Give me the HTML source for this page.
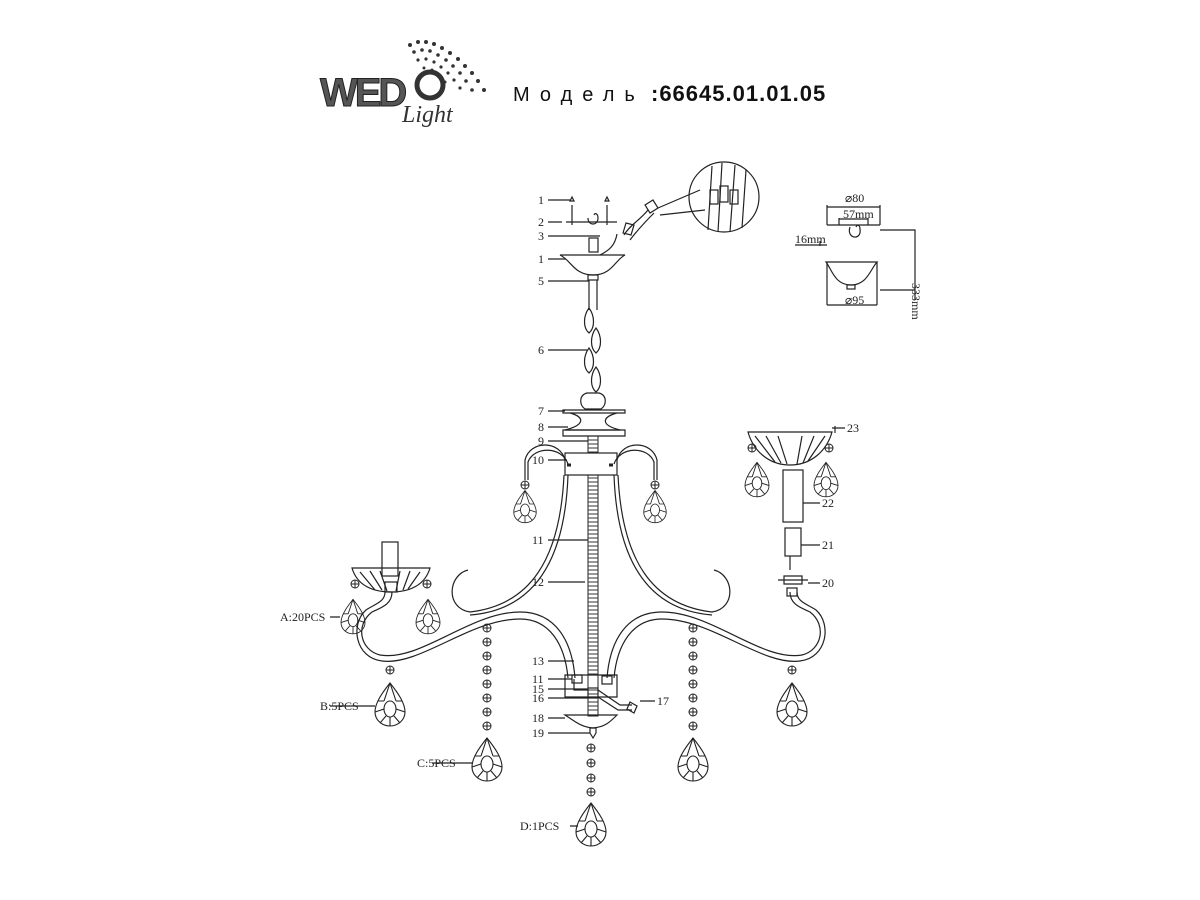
<!DOCTYPE html>
<html><head><meta charset="utf-8"><style>
html,body{margin:0;padding:0;background:#fff;}
svg{display:block;}
text{font-family:"Liberation Serif",serif;font-size:12px;fill:#222;}
.t{font-family:"Liberation Sans","Noto Sans CJK SC",sans-serif;}
</style></head><body>
<svg width="1200" height="900" viewBox="0 0 1200 900" xmlns="http://www.w3.org/2000/svg">
<defs>
<g id="drop" fill="none" stroke="#222" stroke-width="1.1">
<path d="M0,-22 C8,-12 15,-2 15,7 A15,14 0 0 1 -15,7 C-15,-2 -8,-12 0,-22 Z"/>
<ellipse cx="0" cy="4" rx="6" ry="8"/>
<path d="M0,-22 L-6,-4 M0,-22 L6,-4 M-15,7 L-6,4 M15,7 L6,4 M-10,18 L-4,11 M10,18 L4,11 M0,21 L0,12 M-12,-4 L-6,-4 M12,-4 L6,-4"/>
</g>
<g id="bead" fill="none" stroke="#222" stroke-width="1">
<circle r="4"/><path d="M-4,0H4M0,-4V4"/>
</g>
</defs>

<!-- logo -->
<g fill="#333">
<circle cx="410" cy="45" r="2"/><circle cx="418" cy="42" r="2"/><circle cx="426" cy="42" r="2"/><circle cx="434" cy="44" r="2"/><circle cx="442" cy="48" r="2"/><circle cx="450" cy="53" r="2"/><circle cx="458" cy="59" r="2"/><circle cx="465" cy="66" r="2"/><circle cx="472" cy="73" r="2"/><circle cx="478" cy="81" r="2"/><circle cx="484" cy="90" r="2"/>
<circle cx="414" cy="52" r="1.8"/><circle cx="422" cy="50" r="1.8"/><circle cx="430" cy="51" r="1.8"/><circle cx="438" cy="55" r="1.8"/><circle cx="446" cy="60" r="1.8"/><circle cx="453" cy="66" r="1.8"/><circle cx="460" cy="73" r="1.8"/><circle cx="466" cy="81" r="1.8"/><circle cx="472" cy="90" r="1.8"/>
<circle cx="418" cy="60" r="1.6"/><circle cx="426" cy="59" r="1.6"/><circle cx="434" cy="62" r="1.6"/><circle cx="441" cy="67" r="1.6"/><circle cx="448" cy="73" r="1.6"/><circle cx="454" cy="80" r="1.6"/><circle cx="460" cy="88" r="1.6"/>
<circle cx="424" cy="68" r="1.5"/><circle cx="432" cy="70" r="1.5"/><circle cx="439" cy="75" r="1.5"/><circle cx="445" cy="82" r="1.5"/>
</g>
<text x="320" y="106" style="font-family:'Liberation Sans',sans-serif;font-size:40px;font-weight:bold;fill:#555;letter-spacing:-3px;stroke:#222;stroke-width:1">WED</text>
<circle cx="430" cy="85" r="13" fill="none" stroke="#333" stroke-width="5"/>
<text x="402" y="122" style="font-family:'Liberation Serif',serif;font-style:italic;font-size:24px;fill:#333">Light</text>
<text x="513" y="101" class="t" style="font-size:20px;fill:#111;letter-spacing:10px">Модель</text>
<text x="651" y="101" class="t" style="font-size:22px;font-weight:bold;fill:#111;letter-spacing:1px">:66645.01.01.05</text>

<g fill="none" stroke="#222" stroke-width="1.2">
<path d="M566,222 H617"/>
<path d="M572,205 V225 M607,205 V225"/>
<path d="M570,201 l2,-4 l2,4z M605,201 l2,-4 l2,4z"/>
<path d="M588,218 c0,8 10,8 10,0 c0,-4 -3,-6 -4,-3"/>
<path d="M624,235 C630,225 640,220 648,210 M630,240 C636,232 645,222 654,213"/>
<path d="M623,233 l3,-10 l8,2 l-3,10z"/>
<path d="M645,205 l8,-5 l5,8 l-8,5z"/>
<path d="M658,208 L700,190 M660,215 L705,210"/>
<circle cx="724" cy="197" r="35"/>
<path d="M712,166 L708,230 M722,163 L718,232 M735,165 L730,232 M746,170 L742,228"/>
<rect x="710" y="190" width="8" height="14"/><rect x="720" y="186" width="8" height="16"/><rect x="730" y="190" width="8" height="14"/>
<path d="M617,234 C615,245 610,250 600,255"/>
<rect x="589" y="238" width="9" height="14"/>
<path d="M560,255 H625 C615,260 612,275 593,275 C574,275 571,260 560,255 Z"/>
<rect x="588" y="275" width="10" height="5"/>
<path d="M589,280 V310 M597,280 V310"/>
<path d="M589,308 c-6,8 -6,20 0,25 c6,-5 6,-17 0,-25z M596,328 c-6,8 -6,20 0,25 c6,-5 6,-17 0,-25z M589,348 c-6,8 -6,20 0,25 c6,-5 6,-17 0,-25z M596,367 c-6,8 -6,20 0,25 c6,-5 6,-17 0,-25z"/>
<path d="M587,393 c-8,2 -8,12 -2,16 h16 c6,-4 6,-14 -2,-16 z"/>
<path d="M563,410 H625 V413 H563 Z M570,413 C585,417 585,425 565,430 H620 C600,425 602,417 617,413"/>
<path d="M563,430 H625 V436 H563 Z"/>
<rect x="588" y="436" width="10" height="280" stroke-width="1"/>
</g>
<g stroke="#333" stroke-width="1">
<path d="M588,440H598M588,444H598M588,448H598M588,452H598M588,478H598M588,482H598M588,486H598M588,490H598M588,494H598M588,498H598M588,502H598M588,506H598M588,510H598M588,514H598M588,518H598M588,522H598M588,526H598M588,530H598M588,534H598M588,538H598M588,542H598M588,546H598M588,550H598M588,554H598M588,558H598M588,562H598M588,566H598M588,570H598M588,574H598M588,578H598M588,582H598M588,586H598M588,590H598M588,594H598M588,598H598M588,602H598M588,606H598M588,610H598M588,614H598M588,618H598M588,622H598M588,626H598M588,630H598M588,634H598M588,638H598M588,642H598M588,646H598M588,650H598M588,654H598M588,658H598M588,662H598M588,666H598M588,670H598M588,674H598M588,690H598M588,694H598M588,698H598M588,702H598M588,706H598M588,710H598"/>
</g>
<g fill="none" stroke="#222" stroke-width="1.2">
<rect x="565" y="453" width="52" height="22" fill="#fff"/>
<path d="M567,465h4M613,465h-4" stroke-width="3"/>
<path d="M565,460 C560,440 530,440 525,460 V480 M568,464 C562,446 534,446 528,462 V480"/>
<path d="M617,460 C622,440 652,440 657,460 V480 M614,464 C620,446 648,446 654,462 V480"/>
<path d="M564,475 C560,560 530,605 470,612 C445,608 448,575 468,570"/>
<path d="M568,475 C565,560 535,610 470,615"/>
<path d="M618,475 C622,560 652,605 712,612 C737,608 734,575 714,570"/>
<path d="M614,475 C617,560 647,610 712,615"/>
<path d="M392,592 C392,605 380,608 372,612 C355,625 360,650 380,655 C420,662 470,612 520,612 C555,612 572,640 575,678"/>
<path d="M385,592 C385,602 375,604 366,610 C350,624 355,658 382,661 C420,666 470,619 520,619 C550,619 565,645 568,678"/>
<path d="M790,592 C790,605 802,608 810,612 C827,625 822,650 802,655 C762,662 712,612 662,612 C627,612 610,640 607,678"/>
<path d="M797,592 C797,602 807,604 816,610 C832,624 827,658 800,661 C762,666 712,619 662,619 C632,619 617,645 614,678"/>
<path d="M565,675 H617 V697 H565 Z"/>
<rect x="572" y="675" width="10" height="8"/><rect x="602" y="676" width="10" height="8"/>
<rect x="588" y="688" width="10" height="10"/>
<path d="M598,690 L620,705 L632,705 M598,697 L618,710 L632,710"/>
<path d="M630,702 l7,4 l-3,7 l-7,-4z"/>
<path d="M565,715 H617 C610,722 605,727 593,728 C581,727 576,722 565,715 Z"/>
<path d="M590,728 h6 v5 l-3,5 l-3,-5z"/>
<rect x="382" y="542" width="16" height="34"/>
<path d="M352,568 H430 C425,585 410,592 391,592 C372,592 357,585 352,568 Z"/>
<path d="M360,572 L375,590 M370,571 L382,590 M380,571 L387,591 M400,571 L396,591 M410,571 L403,590 M420,572 L408,589"/>
<rect x="385" y="582" width="12" height="10"/>
<path d="M748,432 H832 C827,450 812,465 790,465 C768,465 753,450 748,432 Z"/>
<path d="M755,436 L775,462 M766,436 L781,463 M778,436 L787,464 M802,436 L797,464 M814,436 L803,463 M825,436 L808,461"/>
<rect x="783" y="470" width="20" height="52"/>
<rect x="785" y="528" width="16" height="28"/>
<path d="M790,556 V570"/>
<path d="M778,580 H808 M784,576 h18 v8 h-18 z"/>
<rect x="787" y="588" width="10" height="8"/>
<path d="M827,225 H880"/>
<path d="M827,205 V225 M880,205 V225 M827,207 H880 M839,218 V225 M868,218 V225 M839,219 H868"/>
<path d="M850,227 c-4,12 12,14 10,2 c0,-4 -3,-5 -4,-2"/>
<path d="M795,245 H827 M820,241 V246"/>
<path d="M880,230 H915 V300 M880,290 H915"/>
<path d="M826,262 H877 C870,270 867,285 851,285 C835,285 832,270 826,262 Z"/>
<rect x="847" y="285" width="8" height="4"/>
<path d="M827,262 V305 M877,262 V305 M827,305 H877"/>
<path d="M548,200H570 M548,222H562 M548,236H600 M548,259H566 M548,281H589 M548,350H587 M548,411H565 M548,427H568 M548,441H588 M548,460H567 M548,540H588 M548,582H585 M548,661H574 M548,679H572 M548,689H588 M548,698H588 M548,718H565 M548,733H590 M640,701H655 M832,428H845 M835,426 V433 M803,503H820 M801,545H820 M808,583H820 M330,617H340 M330,706H375 M432,763H472 M570,826H578"/>
<path d="M574,679 V690 H588"/>
</g>
<use href="#drop" transform="translate(525,507) scale(0.75)"/>
<use href="#drop" transform="translate(655,507) scale(0.75)"/>
<use href="#bead" x="525" y="485"/><use href="#bead" x="655" y="485"/>
<use href="#drop" transform="translate(353,617) scale(0.8)"/>
<use href="#drop" transform="translate(428,617) scale(0.8)"/>
<use href="#bead" x="355" y="584"/><use href="#bead" x="427" y="584"/>
<use href="#drop" transform="translate(757,480) scale(0.8)"/>
<use href="#drop" transform="translate(826,480) scale(0.8)"/>
<use href="#bead" x="752" y="448"/><use href="#bead" x="829" y="448"/>
<use href="#bead" x="390" y="670"/><use href="#drop" transform="translate(390,705)"/>
<use href="#bead" x="792" y="670"/><use href="#drop" transform="translate(792,705)"/>
<use href="#bead" x="487" y="628"/><use href="#bead" x="487" y="642"/><use href="#bead" x="487" y="656"/><use href="#bead" x="487" y="670"/><use href="#bead" x="487" y="684"/><use href="#bead" x="487" y="698"/><use href="#bead" x="487" y="712"/><use href="#bead" x="487" y="726"/>
<use href="#drop" transform="translate(487,760)"/>
<use href="#bead" x="693" y="628"/><use href="#bead" x="693" y="642"/><use href="#bead" x="693" y="656"/><use href="#bead" x="693" y="670"/><use href="#bead" x="693" y="684"/><use href="#bead" x="693" y="698"/><use href="#bead" x="693" y="712"/><use href="#bead" x="693" y="726"/>
<use href="#drop" transform="translate(693,760)"/>
<use href="#bead" x="591" y="748"/><use href="#bead" x="591" y="763"/><use href="#bead" x="591" y="778"/><use href="#bead" x="591" y="792"/>
<use href="#drop" transform="translate(591,825)"/>

<text x="538" y="204">1</text><text x="538" y="226">2</text><text x="538" y="240">3</text>
<text x="538" y="263">1</text><text x="538" y="285">5</text><text x="538" y="354">6</text>
<text x="538" y="415">7</text><text x="538" y="431">8</text><text x="538" y="445">9</text>
<text x="532" y="464">10</text><text x="532" y="544">11</text><text x="532" y="586">12</text>
<text x="532" y="665">13</text><text x="532" y="683">11</text><text x="532" y="693">15</text>
<text x="532" y="702">16</text><text x="532" y="722">18</text><text x="532" y="737">19</text>
<text x="657" y="705">17</text>
<text x="847" y="432">23</text><text x="822" y="507">22</text><text x="822" y="549">21</text><text x="822" y="587">20</text>
<text x="280" y="621">A:20PCS</text>
<text x="320" y="710">B:5PCS</text>
<text x="417" y="767">C:5PCS</text>
<text x="520" y="830">D:1PCS</text>
<text x="845" y="202">⌀80</text><text x="843" y="218">57mm</text>
<text x="795" y="243">16mm</text><text x="845" y="304">⌀95</text>
<text x="0" y="0" transform="translate(912,283) rotate(90)">333mm</text>
</svg>
</body></html>
